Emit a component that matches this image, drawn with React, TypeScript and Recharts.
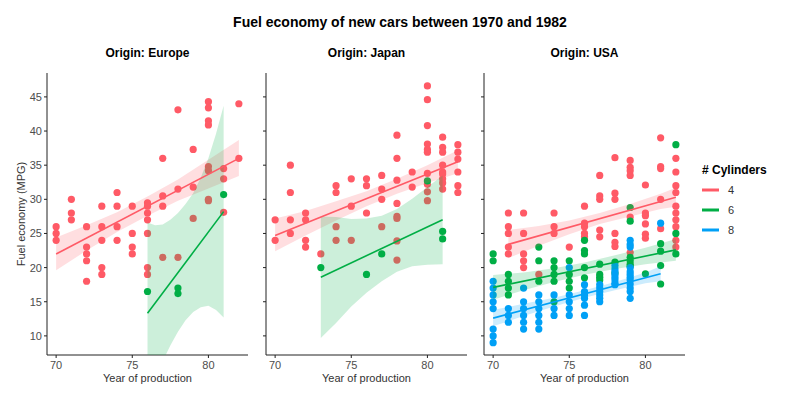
import React from "react";
import { ComposedChart, Scatter, Line, Area, XAxis, YAxis } from "recharts";

const yearTicks = [70, 75, 80];
const mpgTicks = [10, 15, 20, 25, 30, 35, 40, 45];
const cylinderLabels = ["4", "6", "8"];
const cylinderColors = ["#ff5a66", "#00ae45", "#00a0f6"];

// [year, mpg values of the cars of that year]
type Group = [number, number[]];

const europe4: Group[] = [
  [70, [26, 25, 24]],
  [71, [30, 28, 27]],
  [72, [26, 23, 22, 21, 18]],
  [73, [29, 26, 24, 20, 19]],
  [74, [31, 29, 26, 24]],
  [75, [29, 25, 23, 22]],
  [76, [29.5, 29, 28, 27, 25, 20, 19]],
  [77, [36, 30.5, 29, 21.5]],
  [78, [43.1, 31.5, 21.5]],
  [79, [37.3, 31.8, 27.2]],
  [80, [44.3, 43.4, 41.5, 40.9, 34.8, 34.2, 30, 29.8]],
  [81, [34.5, 33, 28.1]],
  [82, [44, 36]],
];
const europe6: Group[] = [
  [76, [16.5]],
  [78, [17, 16.2]],
  [81, [30.7]],
];

const japan4: Group[] = [
  [70, [27, 24]],
  [71, [35, 31, 27, 25]],
  [72, [28, 27, 24, 23]],
  [73, [22]],
  [74, [32, 31, 26, 24]],
  [75, [33, 29, 24]],
  [76, [33, 32, 28]],
  [77, [33.5, 31.5, 30, 26]],
  [78, [39.4, 36, 32.8, 29.4, 27.5, 27.2, 23.9, 21.1]],
  [79, [34, 31.8]],
  [80, [46.6, 44.6, 40.8, 38.1, 37.3, 36.9, 33.8, 32.2, 31.1, 29.8]],
  [81, [39.1, 37.6, 36.9, 35, 34, 33.7, 33, 32.4, 31.5]],
  [82, [38, 36.9, 35.9, 34, 32, 31]],
];
const japan6: Group[] = [
  [73, [20]],
  [76, [19]],
  [77, [22]],
  [80, [32.7]],
  [81, [25.3, 24.2]],
];

const usa4: Group[] = [
  [71, [28, 26, 25, 23, 22]],
  [72, [28, 25, 22, 21, 20]],
  [73, [19]],
  [74, [28, 26, 25]],
  [75, [23]],
  [76, [29, 26.5, 26, 25, 24.5]],
  [77, [33.5, 30.5, 30, 25.5, 24.5]],
  [78, [36.1, 30.9, 30, 25, 23.7, 23.1]],
  [79, [35.7, 34.7, 34.2, 33.5, 27.4, 22.2]],
  [80, [32.1, 28, 27.6, 26.4, 24.9, 24.3]],
  [81, [39, 34.8, 34.5, 30, 25.7]],
  [82, [36, 34, 32, 31, 29, 28, 27, 26, 24, 23]],
];
const usa6: Group[] = [
  [70, [22, 21]],
  [71, [19, 18, 17, 16]],
  [73, [23, 21, 18]],
  [74, [21, 20, 19, 18, 15]],
  [75, [21, 19, 18, 17]],
  [76, [24, 22.5, 22, 20, 18.5]],
  [77, [20.5, 19, 18.6, 18.2]],
  [78, [20.8, 19.2]],
  [79, [28.8, 26.8, 21.5, 21, 20.5, 20.2]],
  [80, [19.1]],
  [81, [23.5, 22.4, 20.3, 17.6]],
  [82, [38, 25, 22]],
];
const usa8: Group[] = [
  [70, [18, 17, 16, 15, 14, 11, 10, 9]],
  [71, [14, 13, 12]],
  [72, [17, 15, 14, 13, 12, 11]],
  [73, [16, 15, 14, 13, 12, 11]],
  [74, [16, 14, 13]],
  [75, [20, 16, 15, 14, 13]],
  [76, [17.5, 16.5, 16, 15.5, 14.5, 13]],
  [77, [17.5, 17, 16.5, 16, 15.5, 15]],
  [78, [20.3, 19.8, 19.4, 19, 18.6, 18.2, 17.7, 17.5]],
  [79, [24, 23.4, 23, 20, 19.4, 19, 18.6, 18.2, 17.6, 17, 16.5, 15.5]],
  [81, [26.5]],
];

// linear fits
const europe4Fit = { years: [70, 82], mpg: [22, 36] };
const europe6Fit = { years: [76, 81], mpg: [13.3, 28.2] };
const japan4Fit = { years: [70, 82], mpg: [24.7, 35.5] };
const japan6Fit = { years: [73, 81], mpg: [18.6, 27] };
const usa4Fit = { years: [71, 82], mpg: [23.4, 30.3] };
const usa6Fit = { years: [70, 82], mpg: [17.1, 22.6] };
const usa8Fit = { years: [70, 81], mpg: [12.6, 19.1] };

// confidence bands
const europe4Band = {
  years: [70, 72, 74, 76, 78, 80, 82],
  low: [19.6, 22.5, 25.2, 27.6, 29.8, 31.6, 33.4],
  high: [24.4, 26.2, 28.1, 30.4, 32.9, 35.8, 38.7],
};
const europe6Band = {
  years: [76, 76.5, 77, 77.5, 78, 78.5, 79, 79.5, 80, 80.5, 81],
  low: [0.5, 3.8, 6.3, 8.6, 10.6, 12.3, 13.5, 14.2, 14.4, 13.8, 12.7],
  high: [26.6, 26.2, 26.3, 27, 28, 29.3, 30.9, 33.2, 36, 39.6, 43.7],
};
const japan4Band = {
  years: [70, 72, 74, 76, 78, 80, 82],
  low: [22.4, 24.7, 26.9, 29.0, 30.8, 32.4, 33.8],
  high: [27.2, 28.3, 29.7, 31.2, 33.0, 35.0, 37.2],
};
const japan6Band = {
  years: [73, 74, 75, 76, 77, 78, 79, 80, 81],
  low: [9.7, 11.9, 14.3, 16.3, 18.0, 19.4, 20.2, 20.4, 20.5],
  high: [27.5, 27.4, 27.1, 27.2, 27.6, 28.6, 30.1, 31.8, 33.5],
};
const usa4Band = {
  years: [71, 73, 75, 77, 79, 81, 82],
  low: [21.4, 23.2, 24.9, 26.4, 27.5, 28.6, 28.9],
  high: [25.5, 26.1, 26.9, 28.0, 29.3, 30.8, 31.7],
};
const usa6Band = {
  years: [70, 72, 74, 76, 78, 80, 82],
  low: [15.3, 16.7, 17.9, 18.95, 19.8, 20.5, 21.0],
  high: [18.9, 19.3, 19.9, 20.75, 21.8, 22.9, 24.2],
};
const usa8Band = {
  years: [70, 72, 74, 76, 78, 80, 81],
  low: [11.4, 12.9, 14.3, 15.6, 16.7, 17.7, 18.0],
  high: [13.8, 14.7, 15.6, 16.7, 17.9, 19.3, 20.2],
};

const FONT = '"Liberation Sans", Arial, Helvetica, sans-serif';
const PLOT_W = 201;

type Fit = { years: number[]; mpg: number[] };
type Band = { years: number[]; low: number[]; high: number[] };
type Series = { cyl: number; pts: Group[]; fit: Fit; band: Band };

const toPoints = (groups: Group[]) =>
  groups.flatMap(([year, vals]) => vals.map((mpg) => ({ year, mpg })));
const toFit = (f: Fit) => f.years.map((year, i) => ({ year, mpg: f.mpg[i] }));
const toBand = (b: Band) =>
  b.years.map((year, i) => ({ year, band: [b.low[i], b.high[i]] }));

const panels: { title: string; left: number; axisW: number; series: Series[] }[] = [
  {
    title: "Origin: Europe",
    left: 0,
    axisW: 47,
    series: [
      { cyl: 0, pts: europe4, fit: europe4Fit, band: europe4Band },
      { cyl: 1, pts: europe6, fit: europe6Fit, band: europe6Band },
    ],
  },
  {
    title: "Origin: Japan",
    left: 255,
    axisW: 11,
    series: [
      { cyl: 0, pts: japan4, fit: japan4Fit, band: japan4Band },
      { cyl: 1, pts: japan6, fit: japan6Fit, band: japan6Band },
    ],
  },
  {
    title: "Origin: USA",
    left: 473,
    axisW: 11,
    series: [
      { cyl: 0, pts: usa4, fit: usa4Fit, band: usa4Band },
      { cyl: 1, pts: usa6, fit: usa6Fit, band: usa6Band },
      { cyl: 2, pts: usa8, fit: usa8Fit, band: usa8Band },
    ],
  },
];

const tickStyle = { fill: "#4d4d4d", fontSize: 11, fontFamily: FONT };

const XTitle = (props: any) => {
  const vb = props.viewBox;
  return (
    <text
      x={vb.x + vb.width / 2}
      y={vb.y + 27}
      textAnchor="middle"
      fill="#333"
      fontSize={11}
      fontFamily={FONT}
    >
      Year of production
    </text>
  );
};

const YTitle = (props: any) => {
  const vb = props.viewBox;
  const cx = 21;
  const cy = vb.y + vb.height / 2;
  return (
    <text
      x={cx}
      y={cy}
      transform={`rotate(-90 ${cx} ${cy})`}
      textAnchor="middle"
      dominantBaseline="central"
      fill="#333"
      fontSize={11}
      fontFamily={FONT}
    >
      Fuel economy (MPG)
    </text>
  );
};

const Panel = ({ title, left, axisW, series }: (typeof panels)[number]) => (
  <div style={{ position: "absolute", left, top: 0 }}>
    <div
      style={{
        position: "absolute",
        left: axisW,
        top: 46,
        width: PLOT_W,
        textAlign: "center",
        font: `bold 12px ${FONT}`,
        lineHeight: "14px",
        color: "#000",
      }}
    >
      {title}
    </div>
    <ComposedChart
      width={axisW + PLOT_W}
      height={400}
      margin={{ top: 73, right: 0, bottom: 0, left: 0 }}
    >
      <XAxis
        type="number"
        dataKey="year"
        domain={[69.4, 82.6]}
        ticks={yearTicks}
        allowDataOverflow
        height={45}
        tickSize={3}
        tickMargin={3}
        tick={tickStyle}
        axisLine={{ stroke: "#222" }}
        tickLine={{ stroke: "#222" }}
        label={XTitle}
      />
      <YAxis
        type="number"
        dataKey="mpg"
        domain={[7.2, 48.5]}
        ticks={mpgTicks}
        allowDataOverflow
        width={axisW}
        tickSize={3}
        tickMargin={2}
        tick={left === 0 ? tickStyle : () => <g />}
        axisLine={{ stroke: "#222" }}
        tickLine={{ stroke: "#222" }}
        label={left === 0 ? YTitle : undefined}
      />
      {series.map((s) => (
        <Scatter
          key={`p${s.cyl}`}
          data={toPoints(s.pts)}
          dataKey="mpg"
          fill={cylinderColors[s.cyl]}
          isAnimationActive={false}
          zIndex={300}
          shape={(p: any) => (
            <circle cx={p.cx} cy={p.cy} r={3.6} fill={cylinderColors[s.cyl]} />
          )}
        />
      ))}
      {series.map((s) => (
        <Area
          key={`b${s.cyl}`}
          data={toBand(s.band)}
          dataKey="band"
          type="linear"
          stroke="none"
          fill={cylinderColors[s.cyl]}
          fillOpacity={0.2}
          isAnimationActive={false}
          zIndex={650}
        />
      ))}
      {series.map((s) => (
        <Line
          key={`l${s.cyl}`}
          data={toFit(s.fit)}
          dataKey="mpg"
          type="linear"
          stroke={cylinderColors[s.cyl]}
          strokeWidth={1.6}
          dot={false}
          isAnimationActive={false}
          zIndex={700}
        />
      ))}
    </ComposedChart>
  </div>
);

export default function App() {
  return (
    <div
      style={{
        position: "absolute",
        left: 0,
        top: 0,
        width: 800,
        height: 400,
        background: "#fff",
        fontFamily: FONT,
      }}
    >
      <div
        style={{
          position: "absolute",
          left: 0,
          top: 14,
          width: 800,
          textAlign: "center",
          font: `bold 14px ${FONT}`,
          lineHeight: "16px",
          color: "#000",
        }}
      >
        Fuel economy of new cars between 1970 and 1982
      </div>
      {panels.map((p) => (
        <Panel key={p.title} {...p} />
      ))}
      <svg
        width={110}
        height={100}
        style={{ position: "absolute", left: 690, top: 155 }}
      >
        <text x={12} y={19} fontSize={12} fontWeight="bold" fontFamily={FONT} fill="#000">
          # Cylinders
        </text>
        {cylinderLabels.map((c, i) => (
          <g key={c}>
            <line
              x1={12}
              x2={29}
              y1={35 + i * 20}
              y2={35 + i * 20}
              stroke={cylinderColors[i]}
              strokeWidth={3}
            />
            <text
              x={38}
              y={35 + i * 20}
              dominantBaseline="central"
              fontSize={11}
              fontFamily={FONT}
              fill="#333"
            >
              {c}
            </text>
          </g>
        ))}
      </svg>
    </div>
  );
}
